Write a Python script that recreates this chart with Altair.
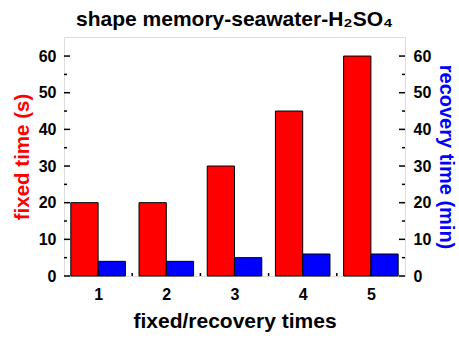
import altair as alt
import pandas as pd

cycles = [1, 2, 3, 4, 5]
fixed_time = [20, 20, 30, 45, 60]
recovery_time = [4, 4, 5, 6, 6]
y_major = [0, 10, 20, 30, 40, 50, 60]
y_minor = [5, 15, 25, 35, 45, 55]
x_major = [1, 2, 3, 4, 5]
x_minor = [1.5, 2.5, 3.5, 4.5]

BW = 0.4
W, H = 341, 239
FONT = "Liberation Sans"

bars = pd.DataFrame({
    "n": cycles,
    "fixed": fixed_time,
    "rec": recovery_time,
})
bars["r0"] = bars["n"] - BW
bars["b1"] = bars["n"] + BW

xscale = alt.Scale(domain=[0.5, 5.5], nice=False, zero=False)
yscale = alt.Scale(domain=[0, 65.2], nice=False, zero=True)

xaxis = alt.Axis(values=x_major, format="d", ticks=False, domain=False, grid=False,
                 labelFont=FONT, labelFontWeight="bold", labelFontSize=16, labelColor="black",
                 labelPadding=10, title="fixed/recovery times", titleFont=FONT,
                 titleFontWeight="bold", titleFontSize=21, titleColor="black", titlePadding=8)

red = alt.Chart(bars).mark_bar(color="#ff0000", stroke="black", strokeWidth=1).encode(
    x=alt.X("r0:Q", scale=xscale, axis=xaxis),
    x2="n:Q",
    y=alt.Y("fixed:Q", scale=yscale,
            axis=alt.Axis(orient="left", values=y_major, ticks=False, domain=False, grid=False,
                          labelFont=FONT, labelFontWeight="bold", labelFontSize=16,
                          labelColor="black", labelPadding=8,
                          title="fixed time (s)", titleFont=FONT, titleFontWeight="bold",
                          titleFontSize=20.5, titleColor="#ff0000", titlePadding=6)),
    y2=alt.datum(0),
)

blue = alt.Chart(bars).mark_bar(color="#0000ff", stroke="black", strokeWidth=1).encode(
    x=alt.X("n:Q", scale=xscale, axis=xaxis),
    x2="b1:Q",
    y=alt.Y("rec:Q", scale=yscale,
            axis=alt.Axis(orient="right", values=y_major, ticks=False, domain=False, grid=False,
                          labelFont=FONT, labelFontWeight="bold", labelFontSize=16,
                          labelColor="black", labelPadding=8,
                          title="recovery time (min)", titleFont=FONT, titleFontWeight="bold",
                          titleFontSize=20, titleColor="#0000ff", titlePadding=5)),
    y2=alt.datum(0),
)

ymaj = pd.DataFrame({"v": y_major})
ymin = pd.DataFrame({"v": y_minor})
xmaj = pd.DataFrame({"v": x_major})
xmin = pd.DataFrame({"v": x_minor})

def yticks(df, x0, x1):
    return alt.Chart(df).mark_rule(color="black", strokeWidth=1.5).encode(
        y=alt.Y("v:Q", scale=yscale, axis=None),
        x=alt.value(x0), x2=alt.value(x1))

def xticks(df, length):
    return alt.Chart(df).mark_rule(color="black", strokeWidth=1.5).encode(
        x=alt.X("v:Q", scale=xscale, axis=xaxis),
        y=alt.value(H), y2=alt.value(H - length))

chart = alt.layer(
    red, blue,
    yticks(ymaj, 0, 6), yticks(ymin, 0, 3),
    yticks(ymaj, W, W - 6), yticks(ymin, W, W - 3),
    xticks(xmaj, 6), xticks(xmin, 3),
).resolve_scale(y="independent").properties(
    width=W, height=H,
    title=alt.TitleParams("shape memory-seawater-H₂SO₄", font=FONT, fontWeight="bold",
                          fontSize=21, color="black", anchor="middle", offset=7),
    autosize=alt.AutoSizeParams(type="none"),
    padding={"left": 64, "top": 37, "right": 54, "bottom": 62},
).configure_view(stroke="black", strokeWidth=2).configure(background="white")

chart.save("out.html", embed_options={"renderer": "svg", "actions": False})
